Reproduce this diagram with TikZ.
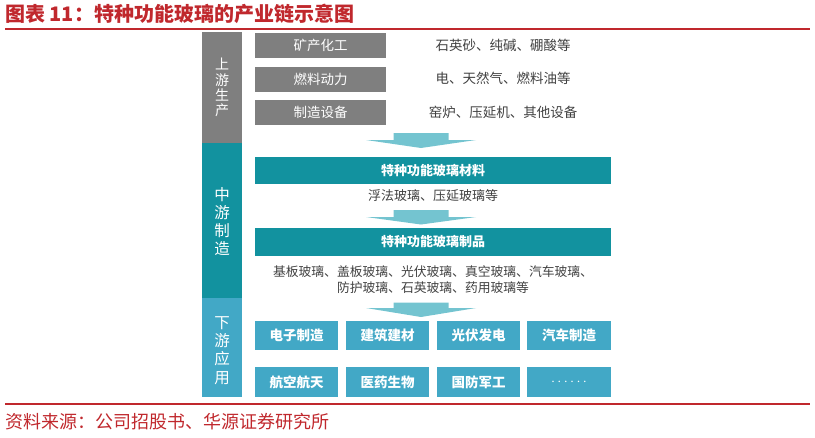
\documentclass[tikz,border=0pt]{standalone}
\usepackage{fontspec}
\setmainfont{Noto Sans CJK SC}
\definecolor{redc}{HTML}{C0282D}
\definecolor{grayc}{HTML}{7F7F7F}
\definecolor{tealc}{HTML}{12929F}
\definecolor{bluec}{HTML}{42A8C6}
\definecolor{arrowc}{HTML}{74C4D0}
\definecolor{textc}{HTML}{404040}
\begin{document}
\begin{tikzpicture}[x=1pt,y=-1pt,
  box/.style={inner sep=0pt,outer sep=0pt,text=white,font=\fontsize{13.5}{15}\selectfont},
  graybox/.style={box,fill=grayc,minimum width=131pt,minimum height=25pt},
  tealbox/.style={box,fill=tealc,minimum width=356pt,minimum height=27.5pt,font=\fontsize{13}{15}\selectfont\bfseries},
  bluebox/.style={box,fill=bluec,minimum width=83pt,minimum height=29pt,font=\fontsize{13.5}{15}\selectfont\bfseries},
  sidebar/.style={inner sep=0pt,outer sep=0pt,minimum width=40pt},
  sidetext/.style={inner sep=0pt,text=white,align=center},
  desc/.style={inner sep=0pt,text=textc,font=\fontsize{13}{15}\selectfont,align=center},
  redline/.style={draw=redc,line width=1.6pt}]
\useasboundingbox (0,0) rectangle (815,437);

% title
\node[anchor=west,inner sep=0pt,text=redc,font=\fontsize{20}{22}\selectfont\bfseries] (title) at (5,14) {图表 11：特种功能玻璃的产业链示意图};
\coordinate (tl) at (5,29); \coordinate (tr) at (810,29);
\draw[redline] (tl) -- (tr);

% side bar
\node[sidebar,fill=grayc,minimum height=111pt] (up) at (222,87.5) {};
\node[sidebar,fill=tealc,minimum height=155pt] (mid) at (222,220.5) {};
\node[sidebar,fill=bluec,minimum height=99pt] (down) at (222,347.5) {};
\node[sidetext,font=\fontsize{14}{15.3}\selectfont] (upt) at (222,87.5) {上\\游\\生\\产};
\node[sidetext,font=\fontsize{15.5}{18}\selectfont] (midt) at (222,222) {中\\游\\制\\造};
\node[sidetext,font=\fontsize{15.5}{18.3}\selectfont] (downt) at (222,350.5) {下\\游\\应\\用};

% upstream
\node[graybox] (g1) at (320.5,45.5) {矿产化工};
\node[graybox] (g2) at (320.5,79) {燃料动力};
\node[graybox] (g3) at (320.5,112.5) {制造设备};
\node[desc,font=\fontsize{13.5}{15}\selectfont] (r1) at (503,45) {石英砂、纯碱、硼酸等};
\node[desc,font=\fontsize{13.5}{15}\selectfont] (r2) at (503,78) {电、天然气、燃料油等};
\node[desc,font=\fontsize{13.5}{15}\selectfont] (r3) at (503,112) {窑炉、压延机、其他设备};

% arrows
\fill[arrowc] (393.5,133) -- (448.5,133) -- (448.5,140) -- (476,140) -- (421,148) -- (366,140) -- (393.5,140) -- cycle;
\fill[arrowc] (393.5,210) -- (448.5,210) -- (448.5,217) -- (476,217) -- (421,224.5) -- (366,217) -- (393.5,217) -- cycle;
\fill[arrowc] (393.5,302.5) -- (448.5,302.5) -- (448.5,308) -- (476,308) -- (421,317) -- (366,308) -- (393.5,308) -- cycle;

% midstream
\node[tealbox] (t1) at (433,170.5) {特种功能玻璃材料};
\node[desc] (m1) at (433,196) {浮法玻璃、压延玻璃等};
\node[tealbox] (t2) at (433,242) {特种功能玻璃制品};
\node[desc,font=\fontsize{12.8}{16}\selectfont] (m2) at (433,280) {基板玻璃、盖板玻璃、光伏玻璃、真空玻璃、汽车玻璃、\\防护玻璃、石英玻璃、药用玻璃等};

% downstream
\node[bluebox] (b1) at (296.5,335.5) {电子制造};
\node[bluebox] (b2) at (387.5,335.5) {建筑建材};
\node[bluebox] (b3) at (478.5,335.5) {光伏发电};
\node[bluebox,minimum width=84pt] (b4) at (569,335.5) {汽车制造};
\node[bluebox,minimum height=30pt] (b5) at (296.5,382) {航空航天};
\node[bluebox,minimum height=30pt] (b6) at (387.5,382) {医药生物};
\node[bluebox,minimum height=30pt] (b7) at (478.5,382) {国防军工};
\node[bluebox,minimum width=84pt,minimum height=30pt] (b8) at (569,382) {$\cdots\cdots$};

% footer
\coordinate (bl) at (5,404); \coordinate (br) at (810,404);
\draw[redline] (bl) -- (br);
\node[anchor=west,inner sep=0pt,text=redc,font=\fontsize{18}{20}\selectfont] (src) at (5,422) {资料来源：公司招股书、华源证券研究所};
\end{tikzpicture}
\end{document}
